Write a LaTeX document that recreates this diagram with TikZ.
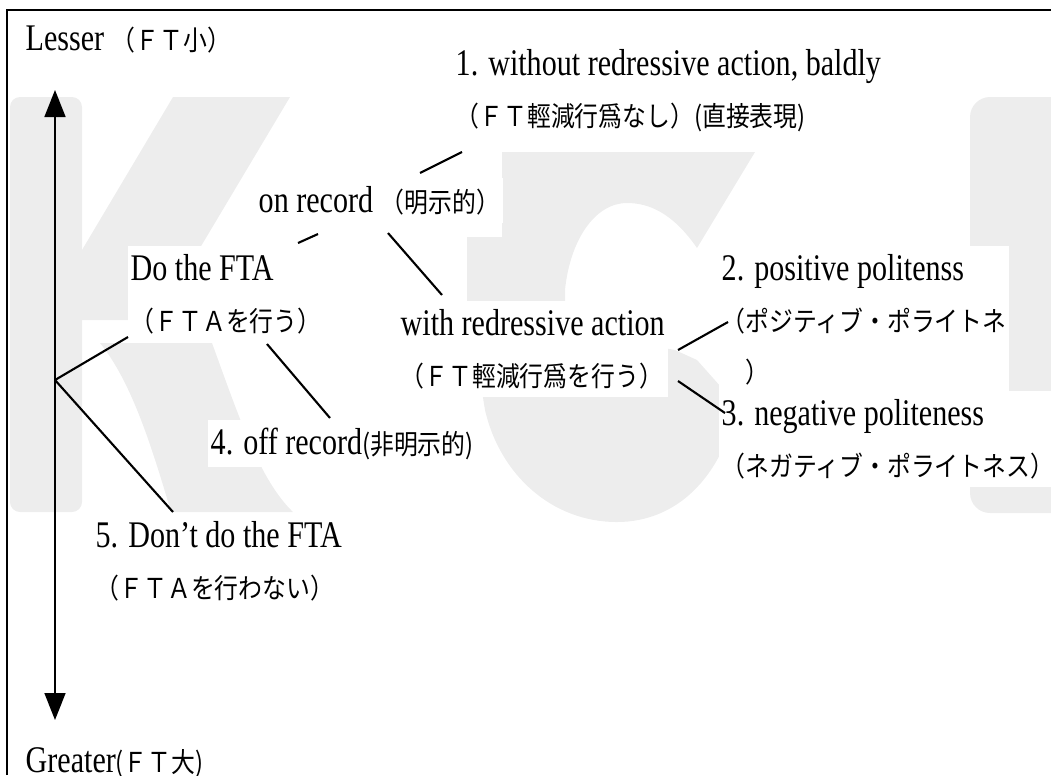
\documentclass[tikz,border=0pt]{standalone}
\usepackage{fontspec}
\setmainfont{Liberation Serif}[FakeStretch=0.8]
\newfontfamily\jp{Noto Sans CJK JP}[FakeStretch=0.87]
\usepackage{tikz}
\usetikzlibrary{positioning,arrows.meta,calc}

\newcommand{\jt}[1]{{\jp\fontsize{7.8}{14.5}\selectfont #1}}

\begin{document}
\begin{tikzpicture}[
		x=0.1mm, y=-0.1mm,
		font=\fontsize{10.7}{14.5}\selectfont,
		lbl/.style={fill=white, inner xsep=0.3mm, inner ysep=0.8mm, align=left, anchor=base west},
		branch/.style={line width=0.6pt},
		axis/.style={{Triangle[length=2.7mm,width=2.1mm]}-{Triangle[length=2.7mm,width=2.1mm]}, line width=0.45pt},
		wm/.style={fill=gray!14}
		]
		\useasboundingbox (0,0) rectangle (1051,775);
		% watermark
		\fill[wm, rounded corners=1mm] (10,97) rectangle (82,512);
		\fill[wm] (173,97) -- (290,97) -- (157,320) -- (82,320) -- (82,250) -- cycle;
		\fill[wm] (100,343) -- (212,343) .. controls (240,420) and (260,480) .. (293,512)
		-- (171,512) .. controls (150,440) and (130,380) .. (100,343) -- cycle;
		\fill[wm] (502,152) -- (755,152) -- (697,248) .. controls (672,212) and (648,203) .. (627,203)
		.. controls (595,203) and (570,240) .. (565,290) -- (565,330) -- (675,350) -- (697,360)
		-- (737,405) .. controls (722,478) and (676,522) .. (617,522)
		.. controls (552,522) and (500,475) .. (485,410) -- (467,300) -- (467,237) -- (502,237) -- cycle;
		\fill[wm, rounded corners=2mm] (970,97) rectangle (1080,513);
		% frame
		\draw[line width=0.6pt] (7,775) |- (1051,10);
		% labels (base = last line)
		\node[lbl] (lesser) at (22,50) {Lesser \jt{（ＦＴ小）}};
		\node[lbl] (one) at (452,126)
		{1. without redressive action, baldly\\ \jt{（ＦＴ輕減行爲なし）(直接表現)}};
		\node[lbl] (onrec) at (255,212) {on record \jt{（明示的）}};
		\node[lbl] (do) at (127,331) {Do the FTA\\ \jt{（ＦＴＡを行う）}};
		\node[lbl] (with) at (397,386)
		{with redressive action\\ \jt{（ＦＴ輕減行爲を行う）}};
		\node[lbl] (pos) at (718,382)
		{2. positive politenss\\ \jt{（ポジティブ・ポライトネ}\\ \jt{　）}};
		\node[lbl] (neg) at (718,476)
		{3. negative politeness\\ \jt{（ネガティブ・ポライトネス）}};
		\node[lbl] (off) at (207,454) {4. off record\jt{(非明示的)}};
		\node[lbl] (dont) at (92,598) {5. Don't do the FTA\\ \jt{（ＦＴＡを行わない）}};
		\node[lbl] (greater) at (22,772) {Greater\jt{(ＦＴ大)}};
		% scale axis
		\coordinate (top) at (55,90);
		\coordinate (bot) at (55,720);
		\coordinate (root) at (55,380);
		\draw[axis] (bot) -- (top);
		% branches
		\draw[branch] (root) -- ($(do.base west)+(1,6)$);
		\draw[branch] (root) -- ($(dont.base west)+(81,-86)$);
		\draw[branch] ($(do.base west)+(171,-88)$) -- ($(onrec.base west)+(63,22)$);
		\draw[branch] ($(onrec.base west)+(165,-39)$) -- ($(one.base west)+(10,26)$);
		\draw[branch] ($(onrec.base west)+(133,21)$) -- ($(with.base west)+(45,-91)$);
		\draw[branch] ($(do.base west)+(140,13)$) -- ($(off.base west)+(123,-36)$);
		\draw[branch] ($(with.base west)+(281,-36)$) -- ($(pos.base west)+(10,-60)$);
		\draw[branch] ($(with.base west)+(281,-5)$) -- ($(neg.base west)+(7,-63)$);
	\end{tikzpicture}
\end{document}
